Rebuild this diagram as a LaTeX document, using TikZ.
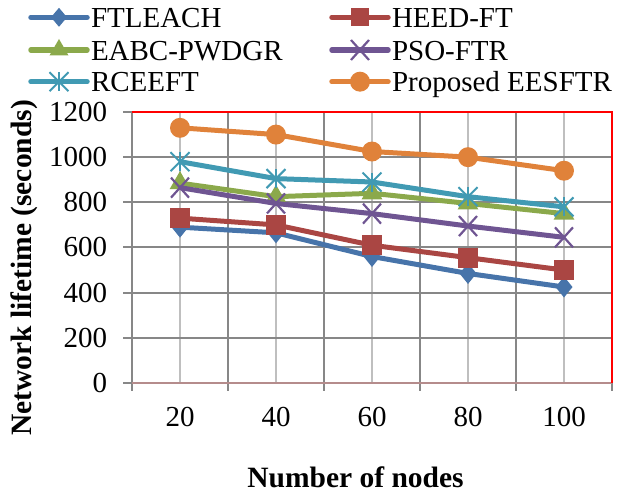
\documentclass[tikz,border=0pt]{standalone}
\usepackage{fontspec}
\setmainfont{Liberation Serif}
\usetikzlibrary{shapes.geometric,shapes.misc}
\definecolor{cblue}{HTML}{4774AA}
\definecolor{cred}{HTML}{AA4643}
\definecolor{cgreen}{HTML}{8BA94B}
\definecolor{cpurple}{HTML}{6F5592}
\definecolor{ccyan}{HTML}{419AB3}
\definecolor{corange}{HTML}{E0823A}
\definecolor{cgrid}{HTML}{878787}
\definecolor{clight}{HTML}{BFBFBF}
\definecolor{caxis}{HTML}{B58C8C}
\begin{document}
\begin{tikzpicture}[x=1pt,y=1pt,
  every node/.style={inner sep=0pt,outer sep=0pt},
  lbl/.style={font=\fontsize{29}{34}\selectfont},
  ttl/.style={font=\fontsize{29.5}{34}\selectfont\bfseries},
  majorline/.style={draw=cgrid,line width=2pt},
  minorline/.style={draw=clight,line width=2pt},
  series/.style={line width=5pt,line join=round},
  legline/.style={line width=5.5pt,line cap=round},
  mdiamond/.style={diamond,fill=cblue,minimum width=17pt,minimum height=21pt},
  msquare/.style={rectangle,fill=cred,minimum size=20pt},
  mtriangle/.style={regular polygon,regular polygon sides=3,fill=cgreen,minimum size=24pt},
  mcross/.style={cross out,draw=cpurple,line width=2.2pt,minimum width=18pt,minimum height=20pt},
  mstar/.style={cross out,draw=ccyan,line width=2pt,minimum width=19pt,minimum height=19pt},
  mcircle/.style={circle,fill=corange,minimum size=20pt}
]
\useasboundingbox (0,0) rectangle (625,495);

\begin{scope}[shift={(132,112)},x=96pt,y=0.225833pt]
  % gridlines
  \foreach \i in {0.5,1.5,...,4.5} \draw[minorline] (\i,0) -- (\i,1200);
  \foreach \v in {200,400,...,1000} \draw[majorline] (0,\v) -- (5,\v);
  \foreach \i in {1,...,4} \draw[majorline] (\i,0) -- (\i,1200);
  % ticks
  \foreach \i in {0,...,5} \draw[majorline] (\i,0) -- ++(0pt,-8pt);
  \foreach \v in {0,200,...,1200} \draw[majorline] (0,\v) -- ++(-9pt,0pt);
  % axes and border
  \draw[majorline] (0,0) -- (0,1200);
  \draw[draw=caxis,line width=2pt] (0,0) -- (5,0);
  \draw[red,line width=2pt] (0,1200) -- (5,1200) -- (5,0);
  % tick labels
  \foreach \v in {0,200,...,1200}
    \node[lbl,anchor=east] (yl\v) at ([xshift=-25pt]0,\v) {\v};
  \foreach \t [count=\i] in {20,40,60,80,100}
    \node[lbl,anchor=base] (xl\i) at ([yshift=-43.7pt]\i-0.5,0) {\t};

  % FTLEACH
  \foreach \v [count=\i] in {690,665,560,485,425} \coordinate (a\i) at (\i-0.5,\v);
  \draw[series,cblue] (a1) -- (a2) -- (a3) -- (a4) -- (a5);
  \foreach \i in {1,...,5} \node[mdiamond] (ma\i) at (a\i) {};
  % HEED-FT
  \foreach \v [count=\i] in {730,700,610,555,500} \coordinate (b\i) at (\i-0.5,\v);
  \draw[series,cred] (b1) -- (b2) -- (b3) -- (b4) -- (b5);
  \foreach \i in {1,...,5} \node[msquare] (mb\i) at (b\i) {};
  % EABC-PWDGR
  \foreach \v [count=\i] in {885,825,840,795,750} \coordinate (c\i) at (\i-0.5,\v);
  \draw[series,cgreen] (c1) -- (c2) -- (c3) -- (c4) -- (c5);
  \foreach \i in {1,...,5} \node[mtriangle] (mc\i) at (c\i) {};
  % PSO-FTR
  \foreach \v [count=\i] in {865,795,750,695,645} \coordinate (d\i) at (\i-0.5,\v);
  \draw[series,cpurple] (d1) -- (d2) -- (d3) -- (d4) -- (d5);
  \foreach \i in {1,...,5} \node[mcross] (md\i) at (d\i) {};
  % RCEEFT
  \foreach \v [count=\i] in {980,905,890,825,780} \coordinate (e\i) at (\i-0.5,\v);
  \draw[series,ccyan] (e1) -- (e2) -- (e3) -- (e4) -- (e5);
  \foreach \i in {1,...,5} {
    \node[mstar] (me\i) at (e\i) {};
    \draw[ccyan,line width=2pt] (me\i.north) -- (me\i.south);
  }
  % Proposed EESFTR
  \foreach \v [count=\i] in {1130,1100,1025,1000,940} \coordinate (f\i) at (\i-0.5,\v);
  \draw[series,corange] (f1) -- (f2) -- (f3) -- (f4) -- (f5);
  \foreach \i in {1,...,5} \node[mcircle] (mf\i) at (f\i) {};
\end{scope}

% axis titles
\node[ttl,rotate=90] (ytitle) at (24,227) {Network lifetime (seconds)};
\node[ttl,anchor=base] (xtitle) at (355.5,7) {Number of nodes};

% legend
\foreach \n/\x/\y in {1/31/477.7,2/31/445,3/31/413.3,4/332/477.7,5/332/445,6/332/413.3} {
  \coordinate (la\n) at (\x,\y);
  \coordinate (lb\n) at (\x+56,\y);
  \coordinate (lm\n) at (\x+28,\y);
  \coordinate (lt\n) at (\x+60,\y-10.3);
}
\draw[legline,cblue] (la1) -- (lb1);
\node[mdiamond,minimum width=16pt,minimum height=19pt] (lk1) at (lm1) {};
\node[lbl,anchor=base west] (ln1) at (lt1) {FTLEACH};
\draw[legline,cgreen] (la2) -- (lb2);
\node[mtriangle,minimum size=22pt] (lk2) at (lm2) {};
\node[lbl,anchor=base west] (ln2) at (lt2) {EABC-PWDGR};
\draw[legline,ccyan] (la3) -- (lb3);
\node[mstar] (lk3) at (lm3) {};
\draw[ccyan,line width=2pt] (lk3.north) -- (lk3.south);
\node[lbl,anchor=base west] (ln3) at (lt3) {RCEEFT};
\draw[legline,cred] (la4) -- (lb4);
\node[msquare,minimum size=18pt] (lk4) at (lm4) {};
\node[lbl,anchor=base west] (ln4) at (lt4) {HEED-FT};
\draw[legline,cpurple] (la5) -- (lb5);
\node[mcross] (lk5) at (lm5) {};
\node[lbl,anchor=base west] (ln5) at (lt5) {PSO-FTR};
\draw[legline,corange] (la6) -- (lb6);
\node[mcircle] (lk6) at (lm6) {};
\node[lbl,anchor=base west] (ln6) at (lt6) {Proposed EESFTR};
\end{tikzpicture}
\end{document}
